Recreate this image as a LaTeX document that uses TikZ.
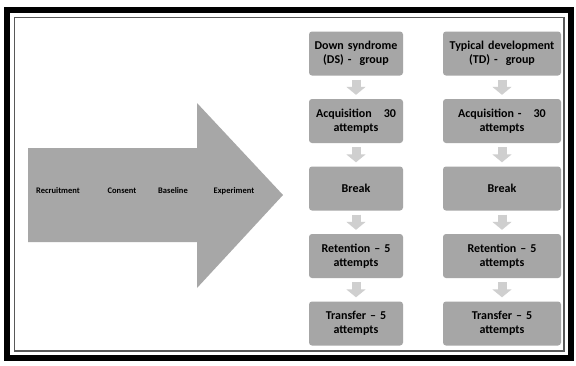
\documentclass[tikz,border=0pt]{standalone}
\usepackage{fontspec}
\setmainfont{Carlito}
\usetikzlibrary{arrows.meta}
\definecolor{boxgray}{HTML}{A6A6A6}
\definecolor{arrgray}{HTML}{A7A7A7}
\definecolor{smallarr}{HTML}{CFCFCF}
\tikzset{
  stagebox/.style={fill=boxgray, rounded corners=3pt, minimum height=44pt,
    align=center, font=\bfseries\fontsize{12}{13.5}\selectfont, inner sep=2pt},
  dsbox/.style={stagebox, minimum width=92pt, text width=90pt},
  tdbox/.style={stagebox, minimum width=116pt, text width=114pt},
  flowarr/.style={draw=smallarr, line width=9pt,
    -{Triangle[width=19pt, length=8pt]}},
  steplabel/.style={font=\bfseries\fontsize{8.5}{10}\selectfont, inner sep=1pt}
}
\begin{document}
\begin{tikzpicture}[x=1pt,y=-1pt]
\useasboundingbox (0,0) rectangle (576,365);
\fill[white] (0,0) rectangle (576,365);
% frame
\draw[black, line width=6pt] (7,10) rectangle (571,358);
\draw[gray!70!black, line width=1.2pt] (14.5,17.5) rectangle (564,351);
% big arrow
\fill[arrgray] (28,148) -- (197,148) -- (197,103) -- (283,195) -- (197,288) -- (197,242) -- (28,242) -- cycle;
\node[steplabel] (rec) at (58,191) {Recruitment};
\node[steplabel] (con) at (122,191) {Consent};
\node[steplabel] (bas) at (173,191) {Baseline};
\node[steplabel] (exp) at (234,191) {Experiment};
% DS column
\node[dsbox] (ds1) at (356,53.5) {Down syndrome\\(DS) -\ \ group};
\node[dsbox] (ds2) at (356,121) {Acquisition\ \ \ 30\\attempts};
\node[dsbox] (ds3) at (356,188.5) {Break};
\node[dsbox] (ds4) at (356,256) {Retention -- 5\\attempts};
\node[dsbox] (ds5) at (356,323.5) {Transfer -- 5\\attempts};
% TD column
\node[tdbox] (td1) at (502,53.5) {Typical development\\(TD) -\ \ group};
\node[tdbox] (td2) at (502,121) {Acquisition -\ \ \ 30\\attempts};
\node[tdbox] (td3) at (502,188.5) {Break};
\node[tdbox] (td4) at (502,256) {Retention -- 5\\attempts};
\node[tdbox] (td5) at (502,323.5) {Transfer -- 5\\attempts};
% small arrows
\foreach \c in {ds,td}{
  \draw[flowarr] ([yshift=-4pt]\c1.south) -- ([yshift=4pt]\c2.north);
  \draw[flowarr] ([yshift=-4pt]\c2.south) -- ([yshift=4pt]\c3.north);
  \draw[flowarr] ([yshift=-4pt]\c3.south) -- ([yshift=4pt]\c4.north);
  \draw[flowarr] ([yshift=-4pt]\c4.south) -- ([yshift=4pt]\c5.north);
}
\end{tikzpicture}
\end{document}
